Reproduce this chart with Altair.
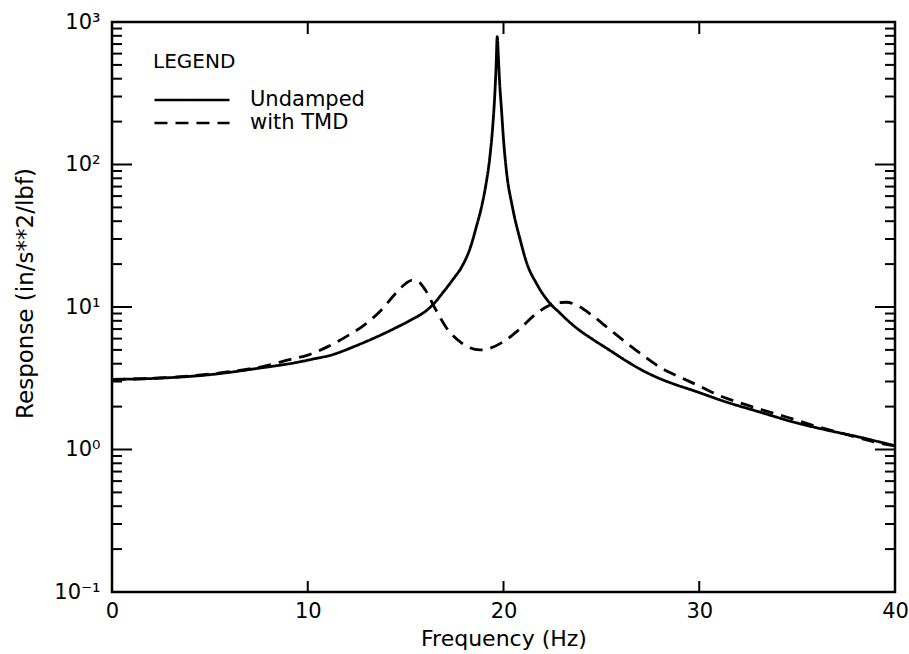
import altair as alt
import pandas as pd

# ---- data ----
freq_undamped = [0.0, 2.5, 5.0, 7.5, 9.5, 10.3, 11.2, 12.4, 13.5, 14.5, 15.3, 16.0, 16.4,
                 16.9, 17.4, 17.9, 18.3, 18.6, 18.9, 19.1, 19.3, 19.45, 19.55,
                 19.62, 19.68, 19.74, 19.8, 19.9, 20.0, 20.15, 20.46, 20.87, 21.18,
                 21.7, 22.46, 22.8, 23.3, 23.8, 24.5, 25.3, 26.25, 27.0, 27.9, 28.8,
                 29.6, 31.4, 33.1, 34.8, 36.5, 38.2, 40.0]
resp_undamped = [3.10, 3.17, 3.35, 3.72, 4.10, 4.32, 4.60, 5.3, 6.15, 7.15, 8.15, 9.3, 10.4,
                 12.6, 15.5, 19.5, 26.0, 36.0, 52.0, 72.0, 112.0, 185.0, 300.0,
                 480.0, 790.0, 560.0, 380.0, 240.0, 150.0, 90.0, 50.0, 29.0, 20.5,
                 14.5, 10.3, 9.3, 8.0, 7.0, 6.0, 5.1, 4.2, 3.65, 3.18, 2.85,
                 2.62, 2.15, 1.83, 1.56, 1.37, 1.22, 1.06]

freq_tmd = [0.0, 2.67, 6.06, 7.8, 9.0, 10.0, 11.0, 12.05, 12.9, 13.75, 14.5, 15.0,
            15.3, 15.6, 16.0, 16.5, 17.1, 17.85, 18.8, 19.9, 20.77, 21.6, 22.3,
            22.8, 23.2, 23.8, 24.5, 25.4, 26.25, 27.1, 28.1, 29.1, 30.1, 31.0, 32.1,
            33.2, 34.45, 35.8, 37.3, 39.2, 40.0]
resp_tmd = [3.10, 3.19, 3.52, 3.85, 4.25, 4.6, 5.25, 6.3, 7.5, 9.5, 12.5, 14.6,
            15.4, 15.2, 13.2, 9.8, 7.1, 5.6, 5.0, 5.6, 6.9, 8.8, 10.2,
            10.7, 10.8, 10.2, 8.8, 7.0, 5.65, 4.6, 3.7, 3.18, 2.75, 2.4, 2.12,
            1.9, 1.69, 1.48, 1.3, 1.11, 1.06]

series_names = ["Undamped", "with TMD"]
x_tick_values = [0, 10, 20, 30, 40]
x_inner_ticks = [10, 20, 30]
y_major_values = [0.1, 1, 10, 100, 1000]
y_inner_major = [1, 10, 100]
y_minor_values = [m * 10.0 ** k for k in range(-1, 3) for m in range(2, 10)]

W, H = 783, 570
FONT = "DejaVu Sans"

df = pd.concat([
    pd.DataFrame({"f": freq_undamped, "v": resp_undamped, "series": series_names[0]}),
    pd.DataFrame({"f": freq_tmd, "v": resp_tmd, "series": series_names[1]}),
])

x_scale = alt.Scale(domain=[0, 40], nice=False, zero=False)
y_scale = alt.Scale(type="log", domain=[0.1, 1000], nice=False)

x_axis = alt.Axis(values=x_tick_values, title="Frequency (Hz)", ticks=False, domain=False,
                  grid=False, labelFontSize=21, labelPadding=8, labelFlush=False,
                  titleFontSize=22, titleY=46, titleBaseline="middle", titleFontWeight="normal")
y_label_expr = ("datum.value < 0.5 ? '10\u207b\u00b9' : datum.value < 5 ? '10\u2070' : "
                "datum.value < 50 ? '10\u00b9' : datum.value < 500 ? '10\u00b2' : '10\u00b3'")
y_axis = alt.Axis(values=y_major_values, labelExpr=y_label_expr, title="Response (in/s**2/lbf)",
                  ticks=False, domain=False, grid=False, labelFontSize=21, labelPadding=12,
                  titleFontSize=23, titleX=-87, titleY=271, titleBaseline="middle",
                  titleFontWeight="normal")

X = alt.X("f:Q", scale=x_scale, axis=x_axis)
Y = alt.Y("v:Q", scale=y_scale, axis=y_axis)

lines = alt.Chart(df).mark_line(color="black", strokeWidth=2.8, clip=True,
                                interpolate="monotone").encode(
    x=X,
    y=Y,
    strokeDash=alt.StrokeDash(
        "series:N",
        scale=alt.Scale(domain=series_names, range=[[1, 0], [13, 8]]),
        legend=alt.Legend(
            title="LEGEND", orient="none", legendX=41, legendY=30,
            symbolType="M-4,0H4", symbolSize=352, symbolOffset=28,
            symbolStrokeWidth=2.6, symbolStrokeColor="black",
            labelFontSize=21, titleFontSize=20,
            titleFontWeight="normal", labelOffset=47, rowPadding=2, titlePadding=17,
            padding=0, labelColor="black", titleColor="black", labelFont=FONT, titleFont=FONT,
        ),
    ),
)

def yticks(values, length, side):
    d = pd.DataFrame({"v": values})
    if side == "left":
        xx, xx2 = alt.value(0), alt.value(length)
    else:
        xx, xx2 = alt.value(W - length), alt.value(W)
    return alt.Chart(d).mark_rule(color="black", strokeWidth=2).encode(y=Y, x=xx, x2=xx2)

def xticks(values, length, side):
    d = pd.DataFrame({"f": values})
    if side == "bottom":
        yy, yy2 = alt.value(H - length), alt.value(H)
    else:
        yy, yy2 = alt.value(0), alt.value(length)
    return alt.Chart(d).mark_rule(color="black", strokeWidth=2).encode(x=X, y=yy, y2=yy2)

chart = alt.layer(
    lines,
    yticks(y_minor_values, 10, "left"),
    yticks(y_inner_major, 20, "left"),
    yticks(y_minor_values, 10, "right"),
    yticks(y_inner_major, 20, "right"),
    xticks(x_inner_ticks, 11, "bottom"),
    xticks(x_inner_ticks, 12, "top"),
).properties(
    width=W, height=H,
    autosize=alt.AutoSizeParams(type="none"),
    padding={"left": 112, "top": 22, "right": 14, "bottom": 62},
    background="white",
).configure(
    font=FONT,
).configure_view(
    stroke="black", strokeWidth=2.5,
).configure_axis(
    labelColor="black", titleColor="black", labelFont=FONT, titleFont=FONT,
)

chart.save("out.html", embed_options={"renderer": "svg", "actions": False})
